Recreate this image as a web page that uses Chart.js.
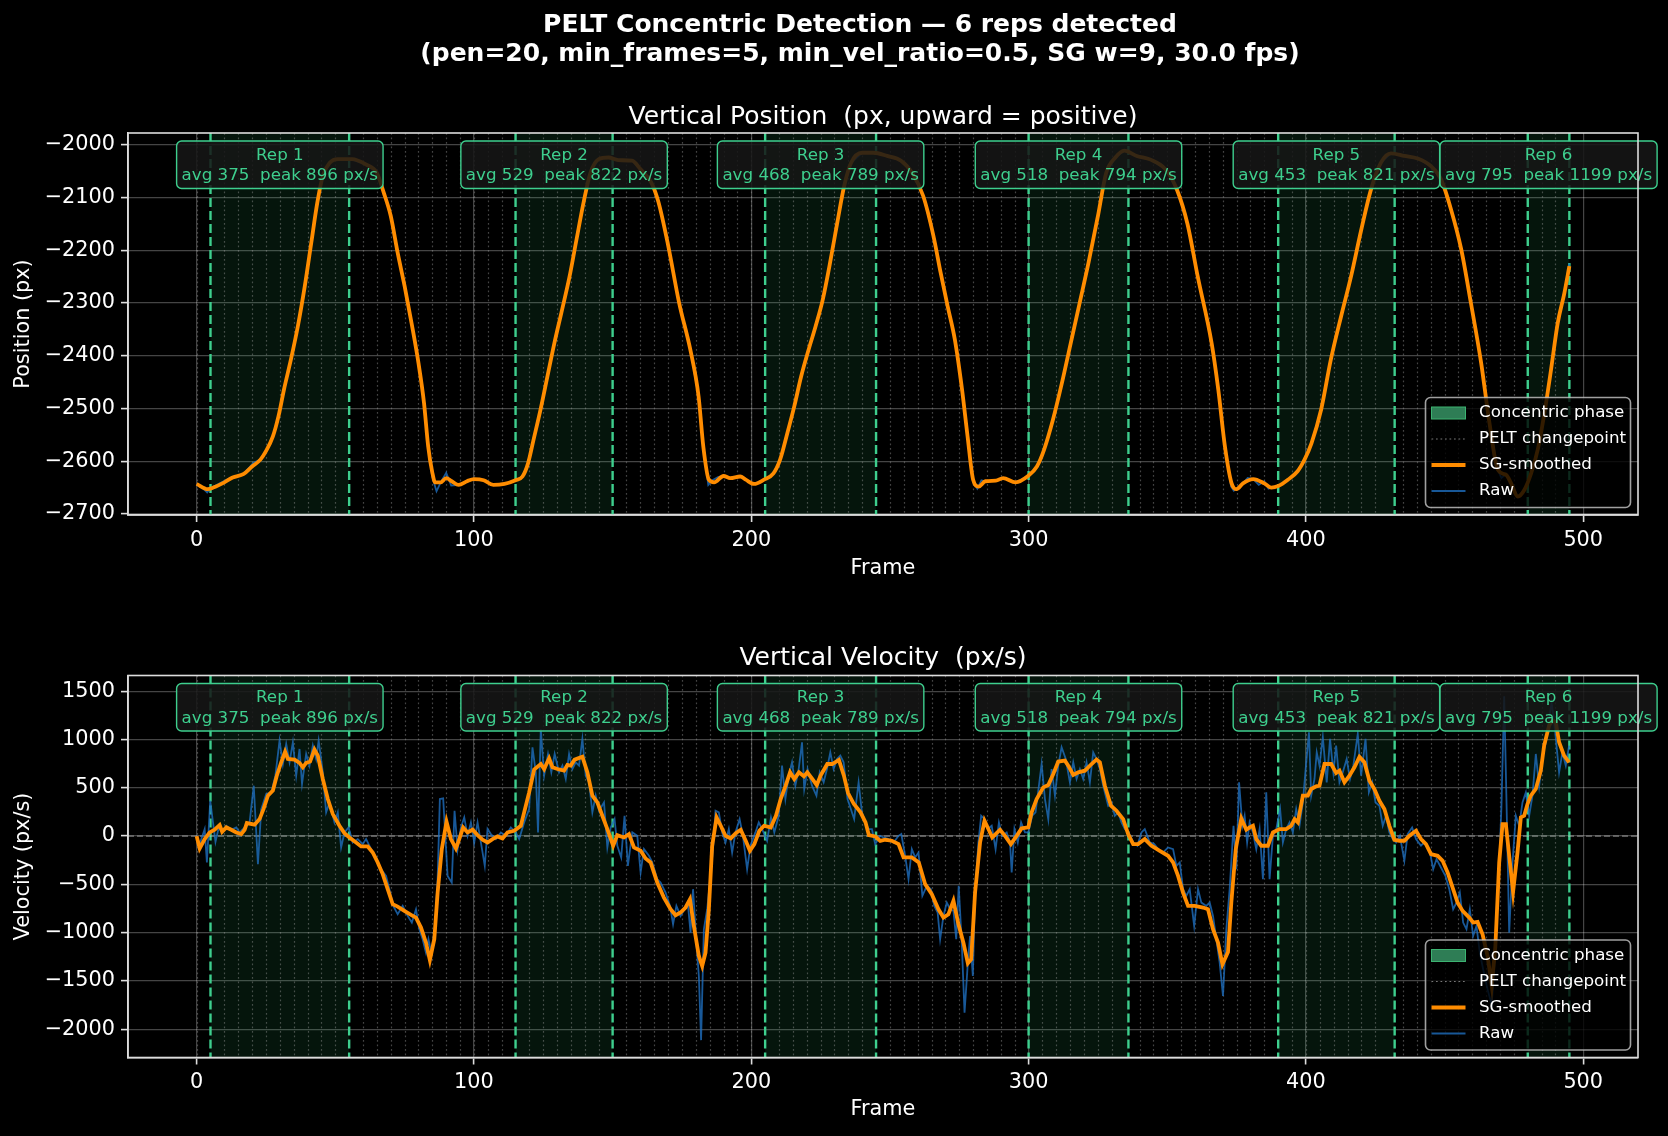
<!DOCTYPE html>
<html>
<head>
<meta charset="utf-8">
<title>PELT Concentric Detection</title>
<script src="https://cdn.jsdelivr.net/npm/chart.js@4.4.1/dist/chart.umd.min.js"></script>
<style>
  html, body { margin: 0; padding: 0; background: #000; }
  #wrap { position: relative; width: 1668px; height: 1136px; background: #000; overflow: hidden; }
  #wrap canvas { position: absolute; left: 0; top: 0; }
  .txt { position: absolute; color: #fff; font-family: 'DejaVu Sans', sans-serif; text-align: center; white-space: pre; }
  #suptitle { left: 0; width: 1720px; top: 10px; font-size: 25px; line-height: 28.5px; font-weight: bold; }
  .panelTitle { left: 128px; width: 1510px; font-size: 25px; line-height: 30px; }
</style>
</head>
<body>
<div id="wrap">
  <canvas id="posChart" width="1668" height="1136"></canvas>
  <canvas id="velChart" width="1668" height="1136"></canvas>
  <div id="suptitle" class="txt">PELT Concentric Detection — 6 reps detected
(pen=20, min_frames=5, min_vel_ratio=0.5, SG w=9, 30.0 fps)</div>
  <div class="txt panelTitle" style="top:101px">Vertical Position  (px, upward = positive)</div>
  <div class="txt panelTitle" style="top:642px">Vertical Velocity  (px/s)</div>
</div>
<script>
// ---- data ----
const repStarts = [5, 115, 205, 300, 390, 480];
const repEnds = [55, 150, 245, 336, 432, 495];
const repAvg = [375, 529, 468, 518, 453, 795];
const repPeak = [896, 822, 789, 794, 821, 1199];

const peltFrames = [0, 10, 15, 20, 25, 30, 35, 40, 45, 50, 60, 65, 70, 75, 80, 85, 90, 95, 100, 105, 110,
  120, 125, 130, 135, 140, 145, 155, 160, 165, 170, 175, 180, 185, 190, 195, 200, 210, 215, 220, 225, 230,
  235, 240, 250, 255, 260, 265, 270, 275, 280, 285, 290, 295, 305, 310, 315, 320, 325, 330, 340, 345, 350,
  355, 360, 365, 370, 375, 380, 385, 395, 400, 405, 410, 415, 420, 425, 435, 440, 445, 450, 455, 460, 465,
  470, 475, 485, 490];

const xTicks = [0, 100, 200, 300, 400, 500];
const posTicks = [-2700, -2600, -2500, -2400, -2300, -2200, -2100, -2000];
const velTicks = [-2000, -1500, -1000, -500, 0, 500, 1000, 1500];

const posFrames = [0, 4, 6, 10, 13, 17, 20, 23, 25, 27.5, 29.5, 31.5, 34, 36.5, 39, 41.5, 43.5, 45.5, 48, 51,
  56, 61, 65, 67.5, 70, 72.5, 75, 77.5, 80, 82, 83.5, 85, 86, 88, 90, 92, 94.5, 97.5, 100, 103.5, 107, 111,
  115, 117.5, 119.5, 121.5, 124, 126.5, 129, 131.5, 134.5, 137, 139.5, 142, 145, 148.5, 152, 157, 160, 164,
  166.5, 170, 174, 178, 181, 182.7, 184.7, 186.6, 190, 192.4, 196, 198, 201, 204.6, 208, 210.4, 213, 215.5,
  218, 220.7, 223.2, 225.8, 228.4, 231, 233.5, 236, 240, 244, 249, 254, 258, 262, 265.7, 268.3, 270.8, 273.4,
  276, 278, 280, 282, 284.4, 288.2, 290.8, 295.3, 299.8, 303, 305.6, 308.8, 312, 315.2, 318.4, 321.6, 325,
  328, 331.3, 334.5, 339, 344, 349.3, 353.5, 357.3, 361, 366, 368.4, 370.8, 373.2, 375, 377.3, 381, 385,
  387.5, 390, 393.5, 397, 399.5, 402, 405.5, 409, 412.7, 416.3, 420, 423.5, 427, 430.7, 435.5, 440.3, 445,
  448.7, 452.3, 456, 459.5, 463.2, 466.2, 469.2, 472.2, 474, 476.4, 478.8, 481.2, 483.6, 486, 488.4, 490.8,
  493.2, 495];
const posSmooth = [-2643, -2653, -2650, -2640, -2631, -2624, -2610, -2597, -2581, -2553, -2515, -2464, -2407,
  -2344, -2268, -2180, -2110, -2059, -2034, -2027, -2027, -2037, -2053, -2091, -2135, -2205, -2268, -2338,
  -2414, -2490, -2572, -2622, -2640, -2640, -2632, -2638, -2645, -2638, -2634, -2636, -2645, -2643, -2636,
  -2629, -2604, -2559, -2502, -2439, -2376, -2319, -2249, -2179, -2110, -2053, -2027, -2024, -2029, -2030,
  -2046, -2072, -2108, -2190, -2300, -2388, -2477, -2572, -2635, -2640, -2628, -2632, -2629, -2635, -2643,
  -2635, -2623, -2597, -2547, -2496, -2439, -2388, -2344, -2293, -2224, -2148, -2078, -2034, -2015, -2015,
  -2021, -2030, -2053, -2097, -2173, -2243, -2306, -2369, -2464, -2553, -2635, -2648, -2638, -2637, -2632,
  -2640, -2628, -2610, -2578, -2521, -2452, -2376, -2300, -2224, -2135, -2053, -2024, -2011, -2021, -2028,
  -2046, -2085, -2150, -2250, -2376, -2464, -2572, -2642, -2653, -2642, -2634, -2642, -2650, -2647, -2635,
  -2619, -2597, -2566, -2502, -2407, -2325, -2249, -2160, -2084, -2034, -2016, -2021, -2026, -2040, -2065,
  -2122, -2198, -2300, -2414, -2528, -2616, -2626, -2642, -2667, -2654, -2623, -2578, -2509, -2426, -2338,
  -2281, -2230];

const rawPosFrames = [0, 2, 3.8, 5, 8, 12, 17, 20.5, 23, 25, 27.5, 29.5, 31.5, 34, 36.5, 39, 41.5, 43.5, 45.5,
  48, 51, 56, 61, 65, 67.5, 70, 72.5, 75, 77.5, 80, 82, 83.5, 85, 86.5, 88, 90, 91.8, 94.5, 97.5, 100, 103.5,
  107, 111, 115, 117.5, 119.5, 121.5, 124, 126.5, 129, 131.5, 134.5, 137, 139.5, 142, 145, 148.5, 152, 157,
  160, 164, 166.5, 170, 174, 178, 181, 182.7, 184.5, 186, 188, 190, 192.4, 196, 198, 201, 204.6, 208, 210.4,
  213, 215.5, 218, 220.7, 223.2, 225.8, 228.4, 231, 233.5, 236, 240, 244, 249, 254, 258, 262, 265.7, 268.3,
  270.8, 273.4, 276, 278, 280, 281.5, 283, 284.4, 288.2, 290.8, 295.3, 299.8, 303, 305.6, 308.8, 312, 315.2,
  318.4, 321.6, 325, 328, 331.3, 334.5, 339, 344, 349.3, 353.5, 357.3, 361, 366, 368.4, 370.8, 373, 374,
  375.5, 377.3, 379, 381, 383, 385, 386.5, 387.5, 390, 393.5, 397, 399.5, 402, 405.5, 409, 412.7, 416.3, 420,
  423.5, 427, 430.7, 435.5, 440.3, 445, 448.7, 452.3, 456, 459.5, 463.2, 466.2, 469.2, 470.5, 472.2, 474,
  476.4, 478.8, 481.2, 483.6, 486, 488.4, 490.8, 493.2, 495];
const rawPosValues = [-2645, -2650, -2659, -2651, -2643, -2632, -2624, -2603, -2597, -2581, -2553, -2515,
  -2464, -2407, -2344, -2268, -2180, -2110, -2059, -2032, -2027, -2028, -2037, -2053, -2091, -2135, -2205,
  -2268, -2338, -2414, -2490, -2572, -2630, -2657, -2640, -2622, -2646, -2645, -2638, -2633, -2636, -2645,
  -2643, -2636, -2629, -2604, -2559, -2502, -2439, -2376, -2319, -2249, -2179, -2110, -2053, -2027, -2024,
  -2029, -2030, -2046, -2072, -2108, -2190, -2300, -2388, -2477, -2572, -2645, -2636, -2630, -2628, -2634,
  -2629, -2635, -2643, -2635, -2623, -2597, -2547, -2496, -2439, -2388, -2344, -2293, -2224, -2148, -2078,
  -2034, -2015, -2015, -2021, -2030, -2053, -2097, -2173, -2243, -2306, -2369, -2464, -2553, -2640, -2652,
  -2636, -2638, -2637, -2632, -2640, -2628, -2610, -2578, -2521, -2452, -2376, -2300, -2224, -2135, -2053,
  -2024, -2011, -2021, -2028, -2046, -2085, -2150, -2250, -2376, -2464, -2572, -2648, -2656, -2650, -2642,
  -2632, -2634, -2645, -2638, -2652, -2650, -2647, -2635, -2619, -2597, -2566, -2502, -2407, -2325, -2249,
  -2160, -2084, -2034, -2016, -2021, -2026, -2040, -2065, -2122, -2198, -2300, -2414, -2528, -2616, -2632,
  -2624, -2642, -2667, -2654, -2623, -2578, -2509, -2426, -2338, -2281, -2225];

const velFrames = [0, 1.1, 2.9, 4.7, 6.5, 8.3, 9.2, 10.7, 12.5, 14.3, 16.1, 17.3, 18.1, 20.9, 22.7, 24.1,
  25.7, 27.5, 28.9, 30.5, 31.9, 32.9, 35.3, 37.1, 38.3, 39.5, 40.9, 42.5, 43.7, 45.5, 47.3, 49.1, 51.5, 53.3,
  55.1, 57.5, 59.3, 61.7, 63.5, 65.3, 67.1, 68.9, 70.7, 72.5, 74.9, 77.3, 79.1, 80.9, 82.7, 84.1, 85.7, 86.9,
  88.4, 90.1, 91.7, 93.5, 94.7, 96.1, 97.7, 99.5, 101.3, 103.1, 104.9, 106.7, 108.5, 110.3, 112.1, 114.5,
  116.9, 118.1, 119.9, 121.7, 124.1, 125.3, 127.1, 128.3, 130.1, 132.5, 133.7, 134.9, 136.3, 139.1, 140.9,
  142.7, 144.5, 146.3, 148.1, 150.2, 151.7, 154.1, 155.9, 157.7, 160.1, 161.9, 163.7, 166.1, 168.5, 170.9,
  172.7, 174.5, 176.3, 177.9, 179.3, 181.1, 182.3, 183.5, 184.7, 185.9, 187.5, 189, 190.7, 192.6, 194.4,
  196.2, 198, 199.5, 201.1, 202.9, 204.6, 207, 208.9, 210.6, 212.4, 214, 215.5, 217.2, 219, 220.2, 222,
  223.6, 225, 227.4, 229.2, 231.6, 233.4, 234.9, 237, 239.4, 241.2, 242.4, 244.7, 246.5, 248.3, 250.7, 253.1,
  254.9, 257.9, 260.4, 262.7, 265.1, 267.5, 269.3, 271.1, 272.9, 274.7, 276.5, 278.1, 279.3, 280.7, 282.5,
  284.1, 285.5, 286.9, 289.7, 291.5, 293.6, 295.7, 297.5, 299.9, 301.1, 302.9, 305.3, 307.1, 308.9, 310.7,
  313.1, 314.3, 316.1, 317.9, 320.3, 322.7, 324.5, 325.7, 327.5, 329.7, 331.7, 334.1, 335.9, 337.7, 339.5,
  341.9, 344.3, 347.3, 350.3, 352.1, 353.9, 355.7, 357.5, 359.9, 362.9, 364.7, 366.5, 368.3, 369.9, 371.9,
  373.1, 374.7, 376.7, 378.5, 379.7, 380.9, 382.1, 383.9, 386.3, 388.1, 390.5, 392.9, 394.7, 395.9, 397.1,
  398.9, 400.7, 401.9, 403.7, 404.9, 406.7, 409.1, 410.9, 412.1, 413.9, 415.7, 417.5, 419.3, 421.1, 422.9,
  424.7, 426.5, 428.3, 430.1, 431.9, 433.7, 435.5, 437.3, 439.7, 441.5, 443.3, 445.1, 447.5, 449.3, 451.1,
  452.9, 454.7, 456.5, 458.9, 460.3, 461.9, 463.7, 465.5, 467, 468.3, 469.7, 470.9, 472.1, 473.3, 474.7,
  476.3, 477.5, 478.7, 479.9, 481.1, 482.9, 484.7, 485.9, 487.7, 488.9, 490.1, 491.3, 493.1, 494.9];
const velSmooth = [0, -128, -31, 38, 66, 114, 45, 90, 66, 38, 21, 66, 135, 118, 176, 280, 419, 471, 626, 765,
  875, 799, 792, 758, 713, 758, 772, 896, 834, 592, 384, 228, 107, 31, -14, -66, -107, -107, -170, -273, -394,
  -550, -706, -730, -775, -817, -844, -948, -1104, -1284, -1069, -585, -135, 149, -31, -128, -31, 90, 38, 66,
  10, -38, -66, -31, -3, -24, 38, 55, 107, 246, 453, 689, 747, 695, 806, 713, 695, 678, 737, 730, 792, 822,
  661, 419, 349, 211, 73, -100, 10, -14, 21, -118, -152, -232, -273, -481, -637, -758, -820, -792, -740, -654,
  -931, -1242, -1346, -1208, -758, -100, 194, 107, 3, -24, 31, 66, -48, -152, -83, 55, 107, 90, 211, 384, 522,
  661, 592, 661, 619, 661, 592, 529, 626, 747, 747, 789, 626, 446, 332, 246, 142, 10, -3, -50, -38, -48, -83,
  -221, -221, -273, -498, -602, -758, -844, -810, -671, -913, -1104, -1318, -1277, -585, -66, 159, 73, -14, 66,
  3, -83, 3, 80, 90, 246, 384, 505, 529, 644, 772, 782, 730, 633, 661, 678, 747, 794, 765, 522, 315, 263, 176,
  21, -83, -83, -31, -100, -152, -204, -273, -412, -585, -723, -723, -740, -758, -965, -1104, -1329, -1200,
  -689, -135, 183, 66, 90, 107, -31, -100, -100, 38, 73, 73, 107, 176, 142, 419, 419, 488, 516, 522, 747, 747,
  654, 678, 557, 626, 713, 821, 765, 574, 488, 367, 280, 107, -38, -48, -48, 3, 55, -31, -83, -187, -204, -256,
  -377, -533, -689, -775, -844, -896, -889, -1017, -1242, -1550, -1150, -273, 125, 125, -204, -578, -170, 194,
  211, 332, 419, 488, 678, 938, 1145, 1199, 1180, 972, 834, 765];

const rawVelFrames = [0, 1.1, 2.9, 3.7, 4.9, 5.9, 6.8, 8, 9.2, 10.7, 12.5, 14.3, 15.5, 17.3, 19.1, 20.6, 22.1,
  23.3, 25.1, 26.9, 28.4, 29.9, 31.1, 32.3, 33.5, 34.7, 35.9, 37.1, 38, 39.5, 40.7, 41.9, 43.1, 44, 45.5,
  46.7, 47.9, 49.7, 50.9, 52.1, 53.3, 54.8, 56.3, 58.1, 59.9, 61.1, 62.9, 64.7, 66.5, 68.3, 69.5, 70.9, 72.5,
  74.3, 76.1, 77.6, 79.1, 80.3, 81.5, 82.7, 83.6, 84.6, 86, 86.9, 87.7, 88.9, 90.5, 92, 93, 94.1, 95.3, 96.5,
  97.7, 98.9, 100.1, 101.3, 102.5, 103.9, 104.9, 106.1, 107.9, 109.7, 111.5, 113.3, 115.1, 116.3, 118.1,
  119.9, 121.1, 122.3, 123.1, 124.1, 125.3, 126.7, 127.9, 129.1, 130.7, 131.9, 133.1, 134.3, 135.5, 136.7,
  137.9, 139.1, 140.3, 141.5, 142.7, 143.9, 145.1, 146.9, 148.1, 149.3, 150.7, 151.7, 153.1, 154.3, 155.5,
  157.1, 158.9, 160.1, 161.3, 163.1, 164.3, 166.1, 167.3, 169.1, 170.7, 171.8, 173, 174.5, 175.9, 177.1,
  178.1, 179, 180.2, 181.1, 181.9, 182.9, 184.1, 185.3, 186.3, 187.1, 188.3, 189.5, 190.7, 191.9, 193.1,
  194.3, 195.8, 197, 198.5, 199.7, 201.5, 202.7, 203.9, 205.7, 207.1, 208.3, 209.9, 211.1, 212.3, 213.5,
  214.7, 215.9, 217.1, 218.3, 219.1, 220.3, 221.9, 223.5, 224.7, 226.1, 227.3, 228.5, 229.7, 230.9, 232.1,
  233.3, 234.7, 235.9, 237.1, 238.7, 239.9, 241.1, 242.3, 243.5, 244.7, 246.5, 247.7, 249.5, 251.3, 253.1,
  254.1, 255.5, 256.7, 257.9, 259.1, 260.3, 261.7, 263.3, 264.8, 266, 267.2, 268.1, 269.3, 270.5, 271.7,
  272.9, 273.9, 274.8, 275.9, 276.9, 278.1, 278.9, 279.9, 280.7, 281.9, 282.9, 284.1, 285.3, 286.7, 288.1,
  289.3, 290.5, 292.1, 293.3, 293.9, 294.9, 296.1, 297.3, 298.7, 299.9, 301.3, 302.5, 303.5, 304.7, 305.9,
  307.1, 308.3, 309.5, 310.7, 311.9, 313.4, 314.9, 316.1, 317.3, 318.5, 319.7, 320.9, 322.1, 323.3, 324.5,
  325.7, 326.9, 328.7, 329.9, 331.1, 332.3, 333.5, 334.7, 336.1, 337.7, 339.2, 340.7, 341.9, 343.7, 345.3,
  346.7, 348.5, 350.3, 352.1, 353.3, 354.5, 355.7, 356.9, 358.1, 359.7, 361.1, 362.3, 364.1, 365.3, 366.5,
  367.7, 368.9, 370.1, 371.3, 372.5, 373.9, 374.9, 375.9, 377.1, 377.9, 378.8, 379.7, 380.9, 382.1, 383.3,
  384.5, 385.7, 386.9, 388.1, 389.3, 390.7, 391.7, 392.9, 394.1, 395.3, 396.5, 397.7, 398.9, 399.9, 401.1,
  401.9, 403.1, 403.9, 404.9, 406.1, 407.5, 408.7, 409.9, 410.9, 412.1, 413.3, 414.7, 415.9, 417.1, 418.7,
  419.9, 421.5, 422.7, 423.9, 425.1, 426.5, 427.7, 428.9, 430.1, 431.3, 432.5, 433.9, 435.5, 436.7, 438.3,
  439.7, 441.5, 442.7, 444.5, 445.9, 447.1, 448.7, 450.3, 451.7, 453.1, 454.3, 455.5, 456.7, 457.9, 459.1,
  460.3, 461.5, 462.7, 463.9, 465.5, 467, 468.5, 469.7, 470.5, 471.5, 472.3, 473.3, 474.5, 475.7, 476.9,
  478.1, 479.3, 480.5, 481.7, 482.9, 484.1, 485.3, 486.5, 487.7, 488.6, 489.9, 491.3, 492.5, 493.7, 494.9];
const rawVelValues = [3, -83, 73, -273, 367, 142, -59, 90, 38, 107, 66, 90, 38, 90, 142, 522, -291, 280, 436,
  453, 626, 990, 747, 955, 765, 972, 626, 903, 540, 851, 730, 938, 799, 990, 661, 246, 349, 142, 246, -118, 38,
  90, -66, -31, -83, -31, -135, -221, -343, -412, -550, -723, -810, -723, -827, -896, -758, -965, -1069, -1208,
  -1069, -1208, -931, -446, 384, 391, -412, -481, 263, -135, 90, 194, 3, 142, -66, 142, -66, -308, 73, 21, -31,
  38, 3, 90, 38, -31, 142, 280, 920, 661, 38, 1110, 626, 851, 661, 851, 661, 730, 592, 851, 695, 765, 730, 1007,
  626, 557, 246, 419, 263, 349, -118, 90, 176, -100, -221, 211, -308, 38, 3, -377, -135, -204, -273, -446, -481,
  -585, -723, -913, -723, -827, -758, -689, -1000, -550, -1104, -1450, -2114, -965, -758, -412, -100, 263, 246,
  38, -66, 73, -170, 38, 176, 3, -343, -100, 38, 142, 73, -48, 194, 38, 211, 730, 384, 626, 765, 522, 695, 972,
  488, 695, 522, 419, 661, 557, 695, 868, 695, 799, 834, 765, 384, 280, 176, 557, 246, 142, 73, 73, -83, 3, -14,
  -31, -66, 3, 21, -204, -446, -135, -221, -170, -619, -516, -550, -723, -792, -1069, -827, -689, -758, -775,
  -1069, -516, -1104, -1830, -1311, -1035, -1450, -585, -66, 211, 176, 73, 107, -135, 142, 3, 38, -66, -377, 73,
  -66, 142, 38, 38, 211, 246, 471, 747, 384, 176, 695, 419, 730, 920, 799, 557, 765, 592, 695, 592, 765, 557,
  868, 799, 695, 522, 315, 349, 211, 246, 142, 73, 38, -66, -100, 38, 73, -66, -83, -135, -170, -118, -135,
  -308, -273, -550, -619, -550, -931, -550, -689, -723, -689, -827, -1069, -1311, -1657, -965, -550, 107, -343,
  557, 107, 211, -66, 142, 38, -135, 73, -446, 453, -446, 3, 73, 280, -66, 73, 142, 38, 280, 107, 349, 695,
  1076, 419, 592, 868, 730, 1024, 557, 1007, 661, 938, 557, 661, 799, 592, 730, 1059, 626, 1007, 453, 557, 349,
  315, 107, 211, 38, -31, -66, 3, -256, 21, 90, -31, -100, -66, -135, -343, -239, -325, -412, -550, -758, -689,
  -585, -896, -965, -758, -1035, -931, -1208, -1380, -1588, -1750, -1100, -300, 300, 1450, 400, -1000, -273,
  211, 107, 349, 453, 211, 419, 851, 519, 830, 969, 1211, 1387, 1076, 661, 868, 730, 938];

// ---- styling ----
const FONT = "'DejaVu Sans', sans-serif";
const ORANGE = '#ff8c00';
const RAW_BLUE = 'rgba(30,110,190,0.8)';
const GREEN = '#3ecf8e';
const GREEN_TEXT = '#3ecf8e';
const SPAN_FILL = 'rgba(46,204,113,0.1)';
const GRID = 'rgba(255,255,255,0.27)';
const SPINE = '#dddddd';

const toPoints = (xs, ys) => xs.map((x, i) => ({ x: x, y: ys[i] }));
const minusFmt = v => (v < 0 ? '\u2212' + Math.abs(v) : String(v));

// Decorations: phase shading, changepoints, boundaries, annotations, legend
const makeDecor = (withZeroLine) => ({
    id: 'decor',
    beforeDatasetsDraw(chart) {
        const { ctx, chartArea: ca, scales: { x, y } } = chart;
        ctx.save();
        ctx.beginPath();
        ctx.rect(ca.left, ca.top, ca.width, ca.height);
        ctx.clip();

        // concentric phase spans
        ctx.fillStyle = SPAN_FILL;
        repStarts.forEach((s, i) => {
            const x0 = x.getPixelForValue(s);
            const x1 = x.getPixelForValue(repEnds[i]);
            ctx.fillRect(x0, ca.top, x1 - x0, ca.height);
        });

        // PELT changepoints
        ctx.strokeStyle = 'rgba(150,150,150,0.45)';
        ctx.lineWidth = 1.2;
        ctx.setLineDash([1.7, 2.8]);
        peltFrames.forEach(f => {
            const px = Math.round(x.getPixelForValue(f)) + 0.5;
            ctx.beginPath();
            ctx.moveTo(px, ca.top);
            ctx.lineTo(px, ca.bottom);
            ctx.stroke();
        });

        // rep boundaries
        ctx.strokeStyle = GREEN;
        ctx.lineWidth = 2.4;
        ctx.setLineDash([9, 4]);
        repStarts.concat(repEnds).forEach(f => {
            const px = x.getPixelForValue(f);
            ctx.beginPath();
            ctx.moveTo(px, ca.top);
            ctx.lineTo(px, ca.bottom);
            ctx.stroke();
        });

        if (withZeroLine) {
            ctx.strokeStyle = 'rgba(200,200,200,0.55)';
            ctx.lineWidth = 1.4;
            ctx.setLineDash([6, 3]);
            const py = y.getPixelForValue(0);
            ctx.beginPath();
            ctx.moveTo(ca.left, py);
            ctx.lineTo(ca.right, py);
            ctx.stroke();
        }
        ctx.restore();
    },
    afterDatasetsDraw(chart) {
        const { ctx, chartArea: ca, scales: { x } } = chart;
        ctx.save();

        // rep annotation boxes
        ctx.font = '16.7px ' + FONT;
        ctx.textAlign = 'center';
        ctx.textBaseline = 'middle';
        repStarts.forEach((s, i) => {
            const cx = x.getPixelForValue((s + repEnds[i]) / 2);
            const line1 = 'Rep ' + (i + 1);
            const line2 = 'avg ' + repAvg[i] + '  peak ' + repPeak[i] + ' px/s';
            const w = Math.max(ctx.measureText(line1).width, ctx.measureText(line2).width) + 10;
            const h = 47.5;
            const top = ca.top + 8;
            ctx.beginPath();
            ctx.roundRect(cx - w / 2, top, w, h, 5);
            ctx.fillStyle = 'rgba(22,22,22,0.86)';
            ctx.fill();
            ctx.strokeStyle = GREEN;
            ctx.lineWidth = 1.4;
            ctx.stroke();
            ctx.fillStyle = GREEN_TEXT;
            ctx.fillText(line1, cx, top + 14.5);
            ctx.fillText(line2, cx, top + 35);
        });

        // top and right spines
        ctx.strokeStyle = SPINE;
        ctx.lineWidth = 1.6;
        ctx.strokeRect(ca.left, ca.top, ca.width, ca.height);

        // legend (lower right)
        const lw = 205, lh = 110;
        const lx = ca.right - 7.5 - lw;
        const ly = ca.bottom - 7.5 - lh;
        ctx.beginPath();
        ctx.roundRect(lx, ly, lw, lh, 5);
        ctx.fillStyle = 'rgba(0,0,0,0.8)';
        ctx.fill();
        ctx.strokeStyle = 'rgba(200,200,200,0.8)';
        ctx.lineWidth = 1.6;
        ctx.stroke();

        const rows = [15.5, 41.5, 67.5, 93.5].map(r => ly + r);
        const hx0 = lx + 6, hx1 = lx + 40;
        // patch
        ctx.fillStyle = '#2e7d55';
        ctx.fillRect(hx0, rows[0] - 6, hx1 - hx0, 12);
        ctx.strokeStyle = '#3cb371';
        ctx.lineWidth = 1;
        ctx.strokeRect(hx0, rows[0] - 6, hx1 - hx0, 12);
        // dotted changepoint
        ctx.strokeStyle = 'rgba(160,160,160,0.75)';
        ctx.lineWidth = 1.2;
        ctx.setLineDash([1.7, 2.8]);
        ctx.beginPath(); ctx.moveTo(hx0, rows[1]); ctx.lineTo(hx1, rows[1]); ctx.stroke();
        ctx.setLineDash([]);
        // smoothed
        ctx.strokeStyle = ORANGE;
        ctx.lineWidth = 3.8;
        ctx.beginPath(); ctx.moveTo(hx0, rows[2]); ctx.lineTo(hx1, rows[2]); ctx.stroke();
        // raw
        ctx.strokeStyle = RAW_BLUE;
        ctx.lineWidth = 2;
        ctx.beginPath(); ctx.moveTo(hx0, rows[3]); ctx.lineTo(hx1, rows[3]); ctx.stroke();

        ctx.fillStyle = '#ffffff';
        ctx.textAlign = 'left';
        ctx.font = '16.7px ' + FONT;
        ['Concentric phase', 'PELT changepoint', 'SG-smoothed', 'Raw'].forEach((t, i) => {
            ctx.fillText(t, lx + 53.5, rows[i]);
        });
        ctx.restore();
    }
});

const getAxisOptions = (p) => ({
    x: {
        type: 'linear',
        min: -24.75,
        max: 519.75,
        afterBuildTicks: s => { s.ticks = xTicks.map(v => ({ value: v })); },
        afterFit: s => { s.height = p.xHeight; },
        grid: { color: GRID, lineWidth: 1.2, tickColor: SPINE, tickLength: 7, tickWidth: 1.6 },
        border: { color: SPINE, width: 1.6 },
        ticks: { color: '#ffffff', font: { family: FONT, size: 20.8 }, padding: 6, maxRotation: 0, callback: v => String(v) },
        title: { display: true, text: 'Frame', color: '#ffffff', font: { family: FONT, size: 20.8 }, padding: { top: 4, bottom: 4 } }
    },
    y: {
        type: 'linear',
        min: p.yMin,
        max: p.yMax,
        afterBuildTicks: s => { s.ticks = p.yTicks.map(v => ({ value: v })); },
        afterFit: s => { s.width = 123.2; },
        grid: { color: GRID, lineWidth: 1.2, tickColor: SPINE, tickLength: 7, tickWidth: 1.6 },
        border: { color: SPINE, width: 1.6 },
        ticks: { color: '#ffffff', font: { family: FONT, size: 20.8 }, padding: 6, callback: minusFmt },
        title: { display: true, text: p.yLabel, color: '#ffffff', font: { family: FONT, size: 20.8 }, padding: { top: 6, bottom: 4 } }
    }
});

const buildChart = (canvasId, p) => new Chart(document.getElementById(canvasId), {
    type: 'line',
    data: {
        datasets: [
            {
                label: 'SG-smoothed',
                data: toPoints(p.frames, p.smooth),
                borderColor: ORANGE,
                borderWidth: 3.8,
                pointRadius: 0,
                cubicInterpolationMode: p.monotone ? 'monotone' : 'default',
                tension: p.monotone ? 0.4 : 0,
                order: 0
            },
            {
                label: 'Raw',
                data: toPoints(p.rawFrames, p.raw),
                borderColor: RAW_BLUE,
                borderWidth: 1.8,
                pointRadius: 0,
                tension: 0,
                order: 1
            }
        ]
    },
    options: {
        responsive: false,
        animation: false,
        devicePixelRatio: 1,
        layout: { padding: { left: 4.8, right: 30, top: p.top, bottom: p.bottom } },
        plugins: { legend: { display: false }, tooltip: { enabled: false }, title: { display: false } },
        scales: getAxisOptions(p)
    },
    plugins: [makeDecor(p.zeroLine)]
});

buildChart('posChart', {
    frames: posFrames, smooth: posSmooth, rawFrames: rawPosFrames, raw: rawPosValues,
    yMin: -2702, yMax: -1977.5, yTicks: posTicks, yLabel: 'Position (px)',
    top: 133, bottom: 550.5, xHeight: 70.5, monotone: true, zeroLine: false
});

buildChart('velChart', {
    frames: velFrames, smooth: velSmooth, rawFrames: rawVelFrames, raw: rawVelValues,
    yMin: -2294, yMax: 1664, yTicks: velTicks, yLabel: 'Velocity (px/s)',
    top: 675.5, bottom: 10, xHeight: 68.5, monotone: false, zeroLine: true
});
</script>
</body>
</html>
